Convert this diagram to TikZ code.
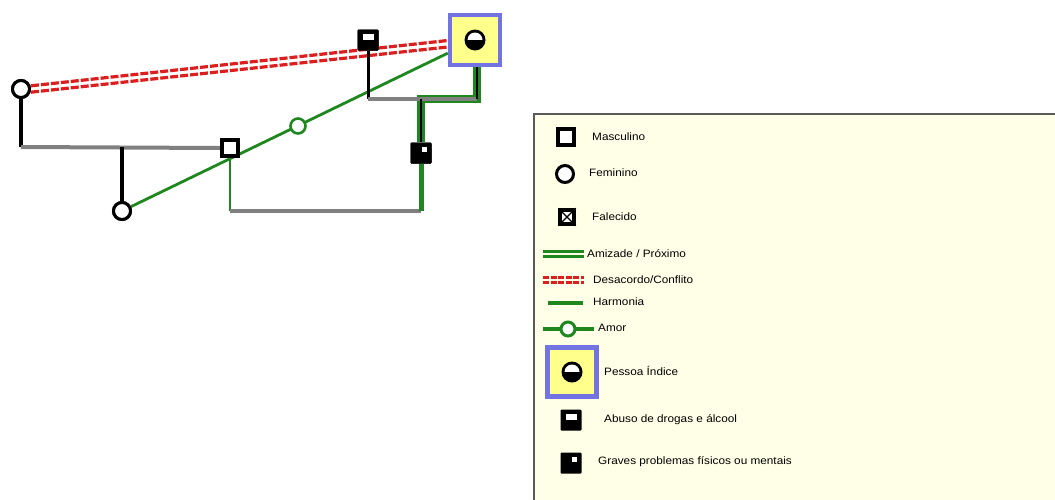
\documentclass[tikz,border=0pt]{standalone}
\usepackage{fontspec}
\setmainfont{Liberation Sans}[FakeStretch=1.1]
\usetikzlibrary{calc}
\definecolor{gGreen}{RGB}{30,135,30}
\definecolor{gGray}{RGB}{128,128,128}
\definecolor{gRed}{RGB}{220,30,30}
\definecolor{gBlue}{RGB}{115,115,225}
\definecolor{gYellow}{RGB}{255,255,140}
\definecolor{legBg}{RGB}{255,255,232}
\definecolor{legBorder}{RGB}{90,90,90}
\tikzset{
  malebox/.style={rectangle, draw=black, fill=white, line width=4pt, minimum size=16pt, inner sep=0pt},
  femalebox/.style={circle, draw=black, fill=white, line width=3pt, minimum size=17pt, inner sep=0pt},
  darkbox/.style={rectangle, fill=black, rounded corners=1pt, minimum size=21pt, inner sep=0pt},
  indexbox/.style={rectangle, draw=gBlue, fill=gYellow, line width=4.5pt, minimum size=50pt, inner sep=0pt},
  lovebox/.style={circle, draw=gGreen, fill=white, line width=2.6pt, minimum size=15pt, inner sep=0pt},
  blackline/.style={black, line width=3.6pt},
  grayline/.style={gGray, line width=4pt},
  harmline/.style={gGreen, line width=2.8pt},
  thickgreen/.style={gGreen, line width=8pt},
  confline/.style={gRed, line width=3.2pt, dash pattern=on 8pt off 2pt},
  legtext/.style={anchor=west, inner sep=0pt, font=\fontsize{10.7}{12}\selectfont},
}
\begin{document}
\begin{tikzpicture}[x=1pt,y=-1pt]
\useasboundingbox (0,0) rectangle (1055,499);
\clip (0,0) rectangle (1055,499);

% ---------- coordinates ----------
\coordinate (c1) at (21,147);
\coordinate (c2) at (122,147);
\coordinate (c3) at (368,99);
\coordinate (c4) at (477,99);
\coordinate (c5) at (421,99);
\coordinate (c6) at (230,211);
\coordinate (c7) at (421,211);
\coordinate (c8) at (477,66);

% ---------- nodes ----------
\path
  node[femalebox] (f1) at (21,89) {}
  node[malebox] (m1) at (230,148) {}
  node[femalebox] (f2) at (122,211) {}
  node[darkbox] (d1) at (368,40) {}
  node[indexbox] (idx) at (475,40) {}
  node[darkbox] (g1) at (421,153) {};

% ---------- connectors ----------
\draw[confline] ([yshift=3.2pt]f1.east) -- ([yshift=-0.5pt]idx.west);
\draw[confline] ([yshift=-3.2pt]f1.east) -- ([yshift=-7pt]idx.west);
\draw[harmline] (f2) -- (idx);
\draw[blackline] (f1.south) -- (c1);
\draw[grayline] (c1) -- (m1.west);
\draw[blackline] (c2) -- (f2.north);
\draw[thickgreen] (c8) -- (c4) -- (c5) -- (g1.north);
\draw[blackline, line width=3pt] (d1.south) -- (c3);
\draw[grayline, line width=3.5pt] (c3) -- (c4);
\draw[black, line width=2.4pt] (c8) -- (c4);
\draw[black, line width=2.6pt] (c5) -- (g1.north);
\draw[harmline] (m1.south) -- (c6);
\draw[grayline] (c6) -- (c7);
\draw[gGreen, line width=5pt] (g1.south) -- (c7);

% ---------- nodes on top ----------
\node[femalebox] at (f1) {};
\node[malebox] at (m1) {};
\node[femalebox] at (f2) {};
\node[lovebox] (lv) at (298,126) {};
\node[darkbox] at (d1) {};
\fill[white] ([xshift=-5.5pt,yshift=0.5pt]d1.center) rectangle ([xshift=5.5pt,yshift=6pt]d1.center);
\node[indexbox] at (idx) {};
\fill[black] (idx.center) circle (10.5pt);
\begin{scope}
  \clip ([xshift=-12pt,yshift=1pt]idx.center) rectangle ([xshift=12pt,yshift=12pt]idx.center);
  \fill[white] (idx.center) circle (7.5pt);
\end{scope}
\node[darkbox] at (g1) {};
\fill[white] ([xshift=1pt,yshift=1pt]g1.center) rectangle ([xshift=6pt,yshift=6pt]g1.center);

% ---------- legend ----------
\draw[fill=legBg, draw=legBorder, line width=1.8pt] (534,114) rectangle (1070,510);

\node[malebox] (lm) at (566,137) {};
\node[legtext] at (592,137) {Masculino};

\node[femalebox] (lf) at (565,174) {};
\node[legtext] at (589,173) {Feminino};

\node[malebox, minimum size=14pt, line width=3.5pt] (lx) at (567,217) {};
\draw[black, line width=1.2pt] (lx.north west) -- (lx.south east) (lx.north east) -- (lx.south west);
\node[legtext] at (592,217) {Falecido};

\coordinate (a1) at (543,254);
\coordinate (a2) at (584,254);
\draw[gGreen, line width=3.6pt] ([yshift=2.6pt]a1) -- ([yshift=2.6pt]a2);
\draw[gGreen, line width=3.6pt] ([yshift=-2.6pt]a1) -- ([yshift=-2.6pt]a2);
\node[legtext] at (587,254) {Amizade / Próximo};

\coordinate (r1) at (543,280);
\coordinate (r2) at (584,280);
\draw[confline, line width=3pt, dash pattern=on 6pt off 1.5pt] ([yshift=2.4pt]r1) -- ([yshift=2.4pt]r2);
\draw[confline, line width=3pt, dash pattern=on 6pt off 1.5pt] ([yshift=-2.4pt]r1) -- ([yshift=-2.4pt]r2);
\node[legtext] at (593,280) {Desacordo/Conflito};

\coordinate (h1) at (548,303);
\coordinate (h2) at (583,303);
\draw[gGreen, line width=3.5pt] (h1) -- (h2);
\node[legtext] at (593,302) {Harmonia};

\coordinate (o1) at (543,329);
\coordinate (o2) at (594,329);
\draw[gGreen, line width=3.5pt] (o1) -- (o2);
\node[lovebox, minimum size=14pt, line width=3pt] (lo) at (568,329) {};
\node[legtext] at (598,328) {Amor};

\node[indexbox, minimum size=49pt] (li) at (572,372) {};
\fill[black] (li.center) circle (10.5pt);
\begin{scope}
  \clip ([xshift=-12pt,yshift=1pt]li.center) rectangle ([xshift=12pt,yshift=12pt]li.center);
  \fill[white] (li.center) circle (7.5pt);
\end{scope}
\node[legtext] at (604,371) {Pessoa Índice};

\node[darkbox] (la) at (571,420) {};
\fill[white] ([xshift=-5.5pt,yshift=0.5pt]la.center) rectangle ([xshift=5.5pt,yshift=6pt]la.center);
\node[legtext] at (604,420) {Abuso de drogas e álcool};

\node[darkbox] (lg) at (571,463) {};
\fill[white] ([xshift=1pt,yshift=1pt]lg.center) rectangle ([xshift=6pt,yshift=6pt]lg.center);
\node[legtext] at (598,462) {Graves problemas físicos ou mentais};
\end{tikzpicture}
\end{document}
